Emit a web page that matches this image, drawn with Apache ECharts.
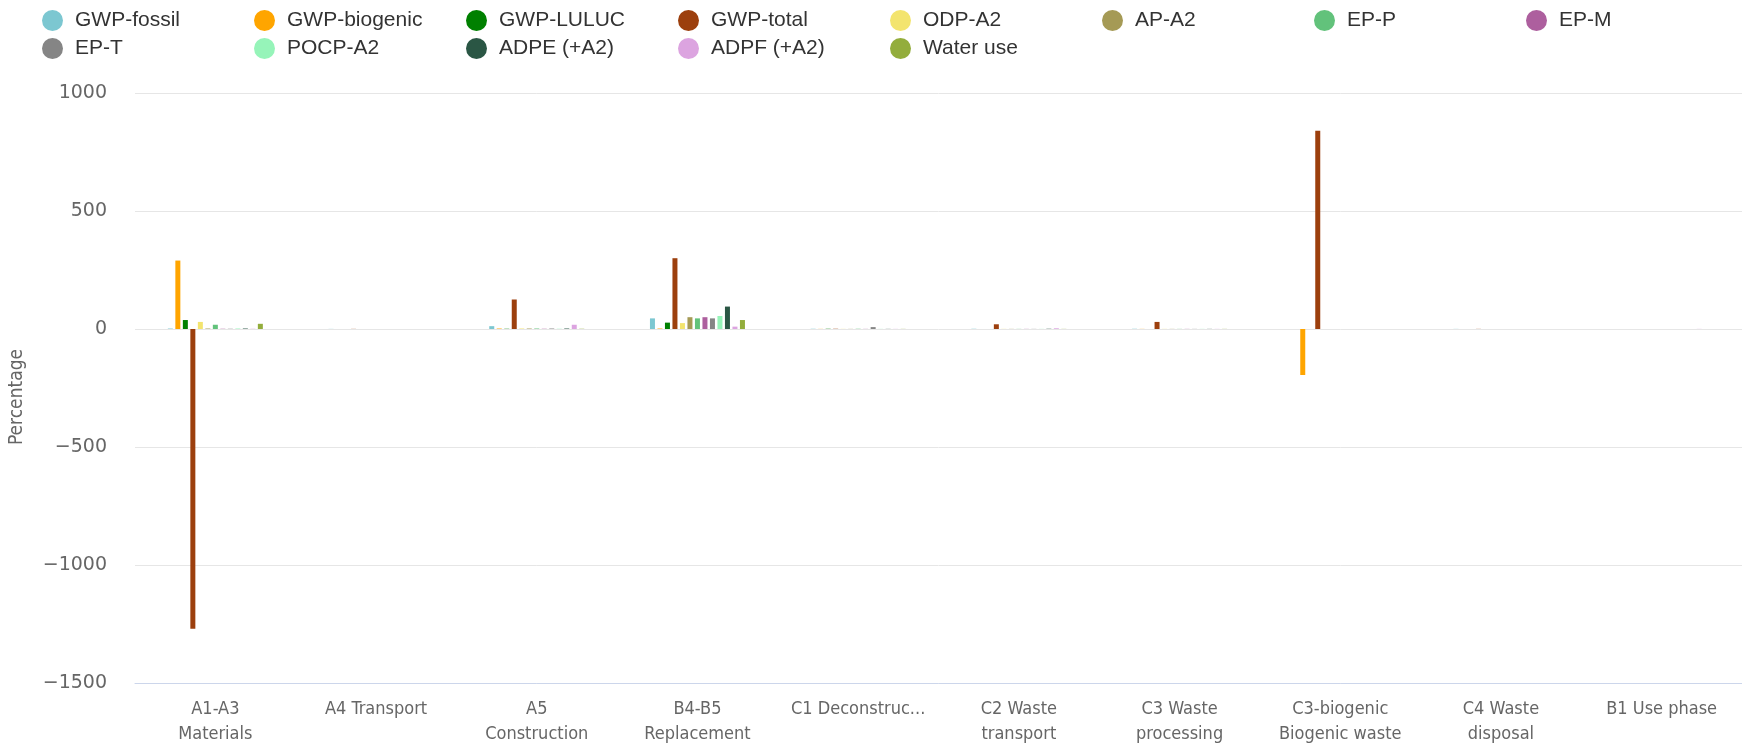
<!DOCTYPE html>
<html>
<head>
<meta charset="utf-8">
<title>Life cycle stage contributions</title>
<script src="https://cdn.jsdelivr.net/npm/echarts@6/dist/echarts.min.js"></script>
<style>
  html, body { margin: 0; padding: 0; background: #fff; }
  #chart { width: 1742px; height: 750px; }
</style>
</head>
<body>
<div id="chart"></div>
<script>
// Life cycle stages on the category axis (line breaks as shown under the axis)
const stages = [
  'A1-A3\nMaterials', 'A4 Transport', 'A5\nConstruction', 'B4-B5\nReplacement',
  'C1 Deconstruction', 'C2 Waste\ntransport', 'C3 Waste\nprocessing',
  'C3-biogenic\nBiogenic waste', 'C4 Waste\ndisposal', 'B1 Use phase'
];

// Share of each indicator per stage, in percent
const gwpFossil   = [2, 0.5, 12, 45, 1, 1, 1, 0, 0.5, 0];
const gwpBiogenic = [290, 0, 2, 2, 0.5, 0, 0.5, -195, 0, 0];
const gwpLuluc    = [38, 0, 1, 27, 1, 0, 0, 0, 0, 0];
const gwpTotal    = [-1270, 0.5, 125, 300, 1, 20, 30, 840, 0.5, 0];
const odpA2       = [30, 0, 2, 25, 0.5, 0.5, 0.5, 0, 0, 0];
const apA2        = [2, 0, 2, 50, 0.5, 0.5, 0.5, 0, 0, 0];
const epP         = [18, 0, 2, 45, 1, 0.5, 0.5, 0, 0, 0];
const epM         = [1, 0, 1, 50, 0.5, 0.5, 0.5, 0, 0, 0];
const epT         = [1, 0, 2, 45, 8, 0.5, 0.5, 0, 0, 0];
const pocpA2      = [2, 0, 1, 55, 0.5, 0.5, 0.5, 0, 0, 0];
const adpe        = [2, 0, 2, 95, 0.5, 1, 0.5, 0, 0, 0];
const adpf        = [1, 0, 18, 10, 0.5, 3, 0.5, 0, 0, 0.5];
const waterUse    = [22, 0, 1, 38, 0.5, 0.5, 0.5, 0, 0, 0];

// Y axis ticks
const yMin = -1500, yMax = 1000, yStep = 500;

const indicators = [
  { name: 'GWP-fossil',   data: gwpFossil,   color: '#7cc7d1' },
  { name: 'GWP-biogenic', data: gwpBiogenic, color: '#ffa500' },
  { name: 'GWP-LULUC',    data: gwpLuluc,    color: '#008000' },
  { name: 'GWP-total',    data: gwpTotal,    color: '#9c3f0d' },
  { name: 'ODP-A2',       data: odpA2,       color: '#f3e46e' },
  { name: 'AP-A2',        data: apA2,        color: '#a59a55' },
  { name: 'EP-P',         data: epP,         color: '#62c27b' },
  { name: 'EP-M',         data: epM,         color: '#ad5f9e' },
  { name: 'EP-T',         data: epT,         color: '#858585' },
  { name: 'POCP-A2',      data: pocpA2,      color: '#96f4b9' },
  { name: 'ADPE (+A2)',   data: adpe,        color: '#2a5644' },
  { name: 'ADPF (+A2)',   data: adpf,        color: '#dca4e0' },
  { name: 'Water use',    data: waterUse,    color: '#93ad3c' }
];

const axisFont = '"DejaVu Sans Condensed", "DejaVu Sans", sans-serif';

const chart = echarts.init(document.getElementById('chart'), null, { renderer: 'canvas' });

chart.setOption({
  backgroundColor: '#ffffff',
  animation: false,
  legend: {
    left: 37,
    top: 5,
    width: 1700,
    icon: 'circle',
    itemWidth: 21,
    itemHeight: 21,
    itemGap: 7,
    textStyle: {
      fontFamily: '"Liberation Sans", Arial, sans-serif',
      fontSize: 21,
      color: '#333333',
      width: 172,
      lineHeight: 21,
      padding: [0, 0, 0, 7]
    },
    data: indicators.map(d => d.name)
  },
  grid: {
    left: 134,
    right: -2,
    top: 93,
    bottom: 67
  },
  xAxis: {
    type: 'category',
    data: stages,
    axisLine: { show: true, onZero: false, lineStyle: { color: '#ccd6eb', width: 1 } },
    axisTick: { show: false },
    axisLabel: {
      interval: 0,
      margin: 14,
      color: '#666666',
      fontFamily: axisFont,
      fontSize: 18,
      lineHeight: 25,
      width: 139,
      overflow: 'truncate',
      ellipsis: '...'
    }
  },
  yAxis: {
    type: 'value',
    min: yMin,
    max: yMax,
    interval: yStep,
    name: 'Percentage',
    nameLocation: 'middle',
    nameGap: 108,
    nameTextStyle: {
      color: '#666666',
      fontFamily: axisFont,
      fontSize: 19,
      padding: [0, 18, 0, 0]
    },
    axisLine: { show: false },
    axisTick: { show: false },
    axisLabel: {
      margin: 28,
      color: '#666666',
      fontFamily: '"DejaVu Sans", sans-serif',
      fontSize: 19,
      formatter: v => String(v).replace('-', '\u2212')
    },
    splitLine: { lineStyle: { color: '#e6e6e6', width: 1 } }
  },
  series: indicators.map(d => ({
    name: d.name,
    type: 'bar',
    data: d.data,
    barWidth: 5,
    barGap: '50%',
    itemStyle: { color: d.color }
  }))
});
</script>
</body>
</html>
